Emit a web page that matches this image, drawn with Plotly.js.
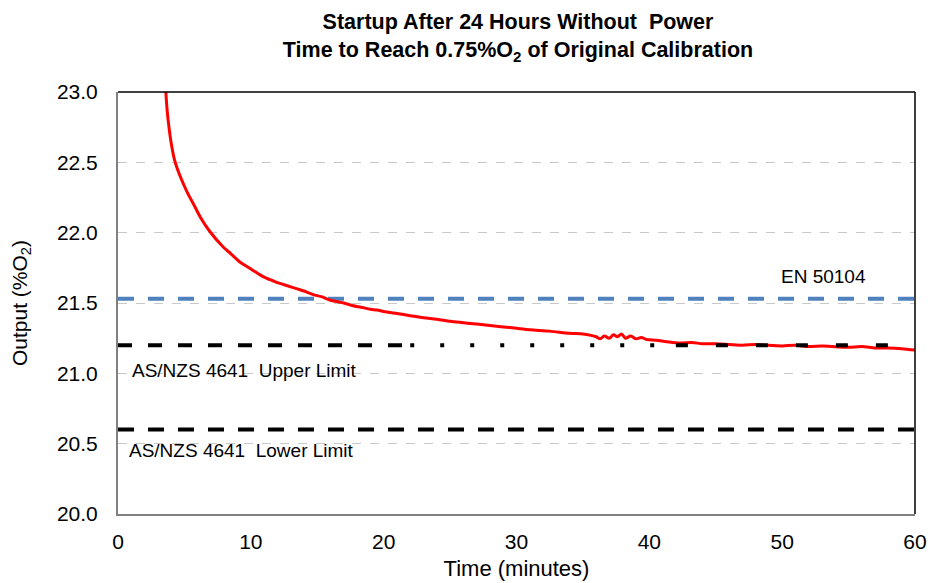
<!DOCTYPE html>
<html>
<head>
<meta charset="utf-8">
<script src="https://cdn.plot.ly/plotly-3.0.1.min.js"></script>
<style>html,body{margin:0;padding:0;background:#fff;}#chart{width:930px;height:583px;}</style>
</head>
<body>
<div id="chart"></div>
<script>
// Red sensor output trace (minutes, %O2)
const timeMin = [3.6,3.7,3.85,4.0,4.25,4.6,5.0,5.3,5.7,6.2,6.9,7.9,8.5,9.2,9.7,10.2,10.7,11.2,11.6,12.0,12.5,13.0,13.5,14.0,14.7,15.3,16.0,16.5,17.0,17.7,18.3,19.0,19.5,20.0,21.0,22.0,23.0,24.0,25.0,26.0,27.0,28.0,29.0,30.0,31.0,32.5,34.0,35.0,35.6,36.0,36.3,36.6,37.0,37.3,37.6,37.9,38.2,38.6,39.0,39.4,39.8,40.5,41.3,42.3,43.2,44.0,45.0,46.0,47.0,48.0,48.8,50.0,51.0,52.0,53.0,53.8,55.0,56.0,57.0,58.0,59.0,60.0];
const outputO2 = [23.0,22.87,22.74,22.64,22.52,22.42,22.33,22.27,22.20,22.11,22.01,21.90,21.85,21.79,21.76,21.73,21.70,21.675,21.66,21.645,21.63,21.615,21.60,21.585,21.56,21.545,21.52,21.51,21.50,21.48,21.47,21.455,21.45,21.44,21.425,21.41,21.395,21.385,21.37,21.36,21.35,21.34,21.33,21.32,21.31,21.30,21.285,21.28,21.27,21.26,21.245,21.265,21.25,21.275,21.26,21.28,21.25,21.265,21.245,21.255,21.24,21.235,21.225,21.215,21.22,21.21,21.21,21.205,21.20,21.205,21.20,21.195,21.20,21.19,21.195,21.19,21.185,21.19,21.18,21.18,21.175,21.165];

// Reference limits (%O2)
const enLevel = 21.53;
const upperLimit = 21.2;
const lowerLimit = 20.6;
const limitSpanX = [0, 60];
const upperDashA = [0, 22];
const upperDots = [22, 42];
const upperDashB = [42, 60];

const xTicks = [0,10,20,30,40,50,60];
const yTicks = [20.0,20.5,21.0,21.5,22.0,22.5,23.0];
const yTickText = yTicks.map(v => v.toFixed(1));

const FONT = "Liberation Sans, Arial, sans-serif";

const traces = [
  {x: limitSpanX, y: [enLevel, enLevel], mode: 'lines',
   line: {color: '#4f81bd', width: 4, dash: '16px,14px'}},
  {x: timeMin, y: outputO2, mode: 'lines',
   line: {color: '#ff0000', width: 3, shape: 'spline', smoothing: 0.8}},
  {x: upperDashA, y: [upperLimit, upperLimit], mode: 'lines',
   line: {color: '#000', width: 4, dash: '14px,16px'}},
  {x: upperDots, y: [upperLimit, upperLimit], mode: 'lines',
   line: {color: '#000', width: 4, dash: '4px,26px'}},
  {x: upperDashB, y: [upperLimit, upperLimit], mode: 'lines',
   line: {color: '#000', width: 4, dash: '12px,28px'}},
  {x: limitSpanX, y: [lowerLimit, lowerLimit], mode: 'lines',
   line: {color: '#000', width: 4, dash: '16px,14px'}}
];

const layout = {
  width: 930, height: 583,
  margin: {l: 118, r: 15, t: 92, b: 69},
  paper_bgcolor: '#fff', plot_bgcolor: '#fff',
  showlegend: false,
  hovermode: false,
  font: {family: FONT, color: '#000'},
  title: {
    text: '<b>Startup After 24 Hours Without  Power<br>Time to Reach 0.75%O<sub>2</sub> of Original Calibration</b>',
    font: {family: FONT, size: 21.5, color: '#000'},
    x: 0.557, xanchor: 'center', yref: 'container', y: 0.95, yanchor: 'middle'
  },
  xaxis: {
    range: [0, 60], tickvals: xTicks, ticktext: xTicks.map(String),
    showgrid: false, zeroline: false,
    showline: true, linecolor: '#808080', linewidth: 2,
    ticks: 'outside', ticklen: 8, tickcolor: 'rgba(0,0,0,0)',
    tickfont: {family: FONT, size: 21, color: '#000'},
    title: {text: 'Time (minutes)', font: {family: FONT, size: 22, color: '#000'}, standoff: 8}
  },
  yaxis: {
    range: [20, 23], tickvals: yTicks, ticktext: yTickText,
    showgrid: true, gridcolor: '#c8c8c8', griddash: 'dash', gridwidth: 1,
    zeroline: false,
    showline: true, linecolor: '#808080', linewidth: 2,
    ticks: 'outside', ticklen: 14, tickcolor: 'rgba(0,0,0,0)',
    tickfont: {family: FONT, size: 21, color: '#000'},
    title: {text: 'Output (%O<sub>2</sub>)', font: {family: FONT, size: 21, color: '#000'}, standoff: 24}
  },
  shapes: [
    {type: 'line', xref: 'paper', yref: 'paper', x0: 0, x1: 1, y0: 1, y1: 1, line: {color: '#000', width: 1.5}},
    {type: 'line', xref: 'paper', yref: 'paper', x0: 1, x1: 1, y0: 0, y1: 1, line: {color: '#000', width: 1.5}}
  ],
  annotations: [
    {x: 53.1, y: 21.685, xref: 'x', yref: 'y', text: 'EN 50104', showarrow: false,
     font: {family: FONT, size: 19, color: '#000'}, xanchor: 'center', yanchor: 'middle'},
    {x: 0.9, y: 21.02, xref: 'x', yref: 'y', text: 'AS/NZS 4641  Upper Limit', showarrow: false,
     font: {family: FONT, size: 19, color: '#000'}, xanchor: 'left', yanchor: 'middle'},
    {x: 0.7, y: 20.455, xref: 'x', yref: 'y', text: 'AS/NZS 4641  Lower Limit', showarrow: false,
     font: {family: FONT, size: 19, color: '#000'}, xanchor: 'left', yanchor: 'middle'}
  ]
};

Plotly.newPlot('chart', traces, layout, {displayModeBar: false, staticPlot: true});
</script>
</body>
</html>
